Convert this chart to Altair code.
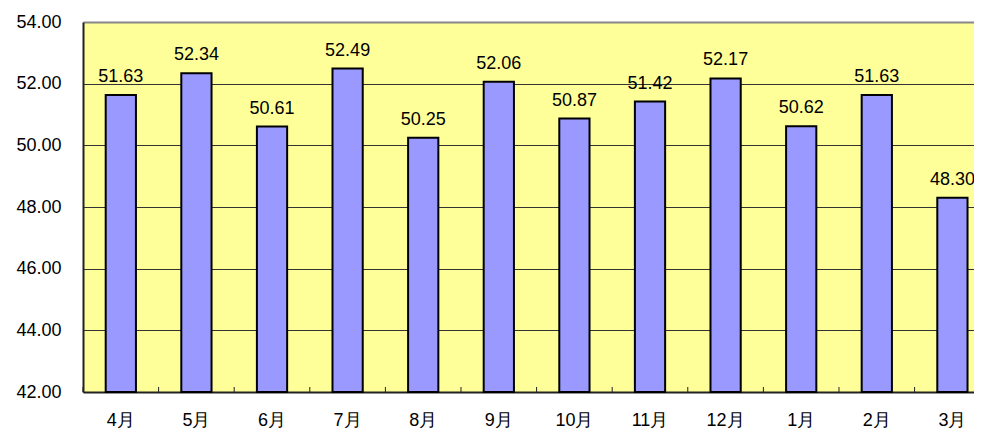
import altair as alt
import pandas as pd

months = ["4月", "5月", "6月", "7月", "8月", "9月", "10月", "11月", "12月", "1月", "2月", "3月"]
values = [51.63, 52.34, 50.61, 52.49, 50.25, 52.06, 50.87, 51.42, 52.17, 50.62, 51.63, 48.30]
y_ticks = [42, 44, 46, 48, 50, 52, 54]

df = pd.DataFrame({"month": months, "value": values})

FONT = "Liberation Sans"

x_main = alt.X(
    "month:N", sort=months,
    scale=alt.Scale(paddingInner=0.6, paddingOuter=0.193, align=0.778),
    axis=alt.Axis(title=None, labelAngle=0, labelFont=FONT, labelFontSize=18,
                  labelColor="black", tickSize=0, labelPadding=19,
                  domainColor="#222222", domainWidth=2),
)
y_main = alt.Y(
    "value:Q",
    scale=alt.Scale(domain=[42, 54], nice=False, zero=False),
    axis=alt.Axis(title=None, values=y_ticks, format=".2f", labelFont=FONT,
                  labelFontSize=18, labelColor="black", tickSize=0, labelPadding=22,
                  domainColor="#222222", domainWidth=2, grid=True,
                  gridColor=alt.condition("datum.value == 54", alt.value("#888888"), alt.value("#333333")),
                  gridWidth=alt.condition("datum.value == 54", alt.value(2), alt.value(1))),
)

bars = alt.Chart(df).mark_bar(color="#9999FF", stroke="black", strokeWidth=2).encode(
    x=x_main, y=y_main, y2=alt.datum(42)
)

labels = alt.Chart(df).mark_text(font=FONT, fontSize=18, color="black",
                                 baseline="alphabetic", dy=-13).encode(
    x=alt.X("month:N", sort=months), y="value:Q", text=alt.Text("value:Q", format=".2f")
)

ticks = alt.Chart(df).mark_rule(color="#222222", strokeWidth=1).encode(
    x=alt.X("month:N", sort=months,
            scale=alt.Scale(type="point", padding=0.393, align=0), axis=None),
    y=alt.value(365), y2=alt.value(370),
)

main = alt.layer(bars, labels)
chart = alt.layer(main, ticks).resolve_scale(x="independent").properties(
    width=891, height=370,
    autosize=alt.AutoSizeParams(type="none"),
    padding={"left": 75, "top": 14, "right": 0, "bottom": 42},
    background="white",
    view=alt.ViewBackground(fill="#FFFF99", stroke=None),
).configure_view(stroke=None, fill="#FFFF99")

chart.save("out.html", embed_options={"renderer": "svg", "actions": False})
